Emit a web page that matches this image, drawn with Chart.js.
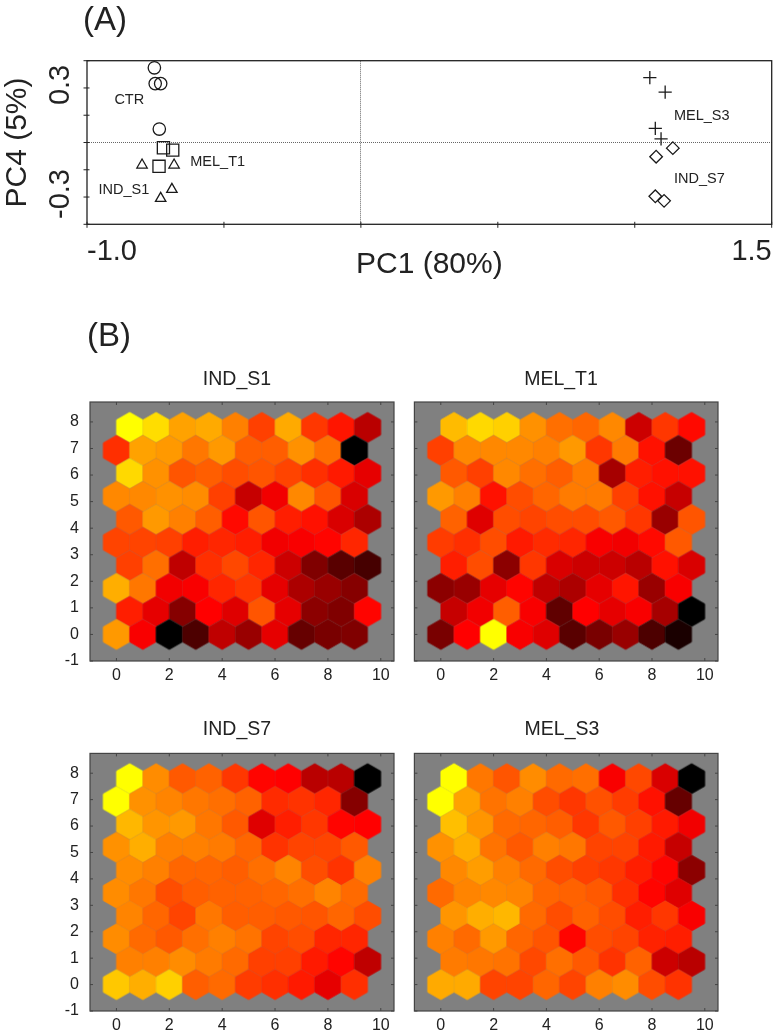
<!DOCTYPE html>
<html><head><meta charset="utf-8">
<script src="https://cdn.jsdelivr.net/npm/chart.js@4"></script>
<style>
html,body{margin:0;padding:0;background:#fff;width:777px;height:1033px;overflow:hidden}
canvas{position:absolute;filter:blur(0.4px)}
.tag{position:absolute;font:33px "Liberation Sans",Arial,sans-serif;color:#222;line-height:38px;filter:blur(0.4px)}
</style></head><body>
<div class="tag" style="left:83px;top:0px">(A)</div>
<div class="tag" style="left:87px;top:316px">(B)</div>
<canvas id="pca" width="800" height="270" style="left:0;top:30px"></canvas>
<canvas id="p1" width="374" height="335" style="left:50px;top:360px"></canvas>
<canvas id="p2" width="362" height="335" style="left:380px;top:360px"></canvas>
<canvas id="p3" width="374" height="323" style="left:50px;top:710px"></canvas>
<canvas id="p4" width="362" height="323" style="left:380px;top:710px"></canvas>
<script>
const FONT='"Liberation Sans",Arial,sans-serif';
// PCA scores
const ctrX=[-0.754,-0.751,-0.731,-0.736], ctrY=[0.411,0.324,0.324,0.074];
const melT1X=[-0.721,-0.687,-0.737], melT1Y=[-0.029,-0.042,-0.131];
const indS1X=[-0.799,-0.682,-0.690,-0.731], indS1Y=[-0.124,-0.124,-0.258,-0.307];
const melS3X=[1.055,1.111,1.075,1.096], melS3Y=[0.357,0.277,0.078,0.020];
const indS7X=[1.139,1.078,1.075,1.107], indS7Y=[-0.031,-0.078,-0.296,-0.321];
const pcaLabels=[['CTR',-0.9,0.235],['MEL_T1',-0.623,-0.108],['IND_S1',-0.958,-0.26],['MEL_S3',1.143,0.145],['IND_S7',1.143,-0.202]];
// SOM levels, rows from top (row 9) to bottom (row 0); 0 = black, 40 = red, 100 = yellow
const indS1=[
[100,92,78,80,70,55,80,53,45,29],
[51,78,76,68,76,62,62,74,66,0],
[91,74,60,62,58,60,56,51,46,36],
[72,72,74,73,55,31,38,72,60,34],
[61,76,70,62,42,60,47,44,34,27],
[56,56,55,47,49,47,38,39,41,49],
[55,66,30,51,57,49,32,20,14,11],
[81,68,38,39,49,53,36,27,24,21],
[47,36,21,40,35,60,36,22,20,41],
[76,39,0,12,30,24,36,16,19,20]];
const melT1=[
[84,91,89,74,66,64,72,32,53,42],
[55,72,72,72,70,76,53,69,44,17],
[61,55,72,66,62,69,26,47,44,44],
[76,70,44,58,64,69,69,55,44,31],
[63,35,58,56,58,58,61,53,24,60],
[54,51,58,46,50,49,39,38,42,61],
[47,58,22,53,34,32,32,29,44,34],
[22,24,36,41,30,27,36,45,24,39],
[31,38,62,39,15,40,36,39,26,0],
[19,40,100,39,35,14,19,24,12,4]];
const indS7=[
[100,73,61,63,53,41,40,29,29,0],
[100,74,71,68,66,63,50,52,49,21],
[83,75,76,68,61,35,47,53,41,40],
[74,81,70,70,69,64,52,56,56,61],
[73,70,64,64,62,66,71,58,52,70],
[73,68,58,62,63,63,64,66,71,65],
[71,64,56,68,62,62,61,60,64,58],
[73,65,61,66,70,67,56,58,49,49],
[70,70,73,69,65,55,55,46,41,30],
[87,81,89,62,65,54,51,46,36,51]];
const melS3=[
[100,68,60,73,65,66,39,57,34,0],
[100,78,67,70,58,53,59,54,44,16],
[85,75,65,64,62,53,61,55,46,38],
[74,81,67,61,70,68,56,56,46,31],
[72,77,70,65,58,55,53,47,41,22],
[65,71,72,71,64,63,61,51,41,35],
[75,81,83,65,58,63,58,47,53,39],
[70,65,76,64,60,41,58,56,48,47],
[69,68,67,57,66,61,52,63,32,29],
[80,80,56,56,64,56,70,73,58,52]];
const panelTitles=['IND_S1','MEL_T1','IND_S7','MEL_S3'];

function levelColor(v){
  const r=Math.min(1,v/40), g=Math.max(0,(v-40)/60);
  return `rgb(${Math.round(r*255)},${Math.round(g*255)},0)`;
}
const cache={};
function hexSprite(color){
  if(cache[color])return cache[color];
  const W=26.1,H=30,c=document.createElement('canvas');
  c.width=30;c.height=34;
  const g=c.getContext('2d'),cx=15,cy=17;
  g.fillStyle=color;g.strokeStyle=color;g.lineWidth=0.9;g.lineJoin='miter';
  g.beginPath();
  g.moveTo(cx,cy-H/2);g.lineTo(cx+W/2,cy-H/4);g.lineTo(cx+W/2,cy+H/4);
  g.lineTo(cx,cy+H/2);g.lineTo(cx-W/2,cy+H/4);g.lineTo(cx-W/2,cy-H/4);g.closePath();
  g.fill();g.stroke();
  return cache[color]=c;
}
function hexPoints(grid){
  const pts=[];
  grid.forEach((row,i)=>{
    const rowIndex=grid.length-1-i;
    row.forEach((v,j)=>pts.push({x:j+(rowIndex%2?0.5:0),y:rowIndex*Math.sqrt(3)/2,v}));
  });
  return pts;
}
const framePlugin={
  id:'frame',
  afterLayout(ch,a,o){
    if(o.titleCenter!==undefined&&ch.titleBlock){
      const t=ch.titleBlock,d=o.titleCenter-(t.left+t.right)/2;
      t.left+=d;t.right+=d;
    }
  },
  beforeDatasetsDraw(ch,a,o){
    if(o.fill){const k=ch.chartArea;ch.ctx.fillStyle=o.fill;ch.ctx.fillRect(k.left,k.top,k.right-k.left,k.bottom-k.top);}
  },
  afterDraw(ch,a,o){
    const g=ch.ctx,k=ch.chartArea;
    g.save();
    g.strokeStyle=o.color;g.lineWidth=o.width;
    g.strokeRect(k.left,k.top,k.right-k.left,k.bottom-k.top);
    g.lineWidth=1;
    g.beginPath();
    ch.scales.x.ticks.forEach(t=>{
      const p=ch.scales.x.getPixelForValue(t.value);
      g.moveTo(p,k.bottom-o.inner);g.lineTo(p,k.bottom+o.outer);
      if(o.mirror){g.moveTo(p,k.top);g.lineTo(p,k.top+o.inner);}
    });
    ch.scales.y.ticks.forEach(t=>{
      const p=ch.scales.y.getPixelForValue(t.value);
      g.moveTo(k.left-o.outer,p);g.lineTo(k.left+o.inner,p);
      if(o.mirror){g.moveTo(k.right,p);g.lineTo(k.right-o.inner,p);}
    });
    g.stroke();
    (o.labels||[]).forEach(l=>{
      g.font='14.5px '+FONT;g.fillStyle='#222';g.textBaseline='middle';g.textAlign='left';
      g.fillText(l[0],ch.scales.x.getPixelForValue(l[1]),ch.scales.y.getPixelForValue(l[2]));
    });
    g.restore();
  }
};
Chart.register(framePlugin);
const zip=(xs,ys)=>xs.map((x,i)=>({x,y:ys[i]}));
function mark(name,xs,ys,style,r){
  return {label:name,data:zip(xs,ys),pointStyle:style,pointRadius:r,showLine:false,
    borderColor:'#1a1a1a',backgroundColor:'transparent',pointBorderWidth:1.3};
}
new Chart(document.getElementById('pca'),{
  type:'scatter',
  data:{datasets:[
    mark('CTR',ctrX,ctrY,'circle',6.2),
    mark('MEL_T1',melT1X,melT1Y,'rect',8.6),
    mark('IND_S1',indS1X,indS1Y,'triangle',6),
    mark('MEL_S3',melS3X,melS3Y,'cross',6.6),
    mark('IND_S7',indS7X,indS7Y,'rectRot',6.3)
  ]},
  options:{
    responsive:false,animation:false,events:[],
    layout:{padding:{top:30.7,right:28.3,left:0,bottom:0}},
    plugins:{legend:{display:false},tooltip:{enabled:false},title:{display:false},
      frame:{color:'#222',width:1.3,inner:2.5,outer:3.5,mirror:false,labels:pcaLabels}},
    scales:{
      x:{type:'linear',min:-1,max:1.5,
        afterFit(s){s.height=75.7;},
        border:{display:false,dash:[1,1]},
        grid:{drawTicks:false,color:c=>c.tick&&Math.abs(c.tick.value)<1e-6?'#666':'transparent',lineWidth:1},
        ticks:{stepSize:0.5,align:'inner',maxRotation:0,padding:10,color:'#222',font:{family:FONT,size:29},autoSkip:false,
          callback:v=>Math.abs(v+1)<1e-6?'-1.0':Math.abs(v-1.5)<1e-6?'1.5':''},
        title:{display:true,text:'PC1 (80%)',color:'#222',font:{family:FONT,size:30},padding:{top:0,bottom:17}}
      },
      y:{type:'linear',min:-0.45,max:0.45,
        afterFit(s){s.width=87;},
        border:{display:false,dash:[1,1]},
        grid:{drawTicks:false,color:c=>c.tick&&Math.abs(c.tick.value)<1e-6?'#666':'transparent',lineWidth:1},
        ticks:{stepSize:0.15,minRotation:90,maxRotation:90,crossAlign:'center',padding:1,labelOffset:-3,color:'#222',autoSkip:false,font:{family:FONT,size:29},
          callback:v=>Math.abs(v-0.3)<1e-6?'0.3':Math.abs(v+0.3)<1e-6?'-0.3':''},
        title:{display:true,text:'PC4 (5%)',color:'#222',font:{family:FONT,size:30},padding:{top:0,bottom:0}}
      }
    }
  }
});
function panel(id,title,grid,showY,left,right,bottomH,topPad,titleCenter){
  new Chart(document.getElementById(id),{
    type:'scatter',
    data:{datasets:[{label:title,data:hexPoints(grid),showLine:false,pointRadius:14,pointBorderWidth:0,
      pointStyle:c=>hexSprite(levelColor(c.raw?c.raw.v:0))}]},
    options:{
      responsive:false,animation:false,events:[],
      layout:{padding:{left:showY?0:left,right,top:0,bottom:0}},
      plugins:{legend:{display:false},tooltip:{enabled:false},
        title:{display:true,text:title,color:'#222',font:{family:FONT,size:19.5,weight:'normal'},padding:{top:8.3,bottom:topPad}},
        frame:{fill:'#808080',color:'#444',width:1.2,inner:3,outer:0,mirror:true,titleCenter}},
      scales:{
        x:{type:'linear',min:-1,max:10.5,
          afterFit(s){s.height=bottomH;},
          border:{display:false},grid:{display:false,drawTicks:false},
          ticks:{stepSize:2,includeBounds:false,maxRotation:0,padding:5,color:'#222',font:{family:FONT,size:16},autoSkip:false}},
        y:{type:'linear',min:-1,max:8.75,
          afterFit(s){s.width=showY?left:0;},
          border:{display:false},grid:{display:false,drawTicks:false},
          ticks:{stepSize:1,includeBounds:false,padding:11,color:'#222',font:{family:FONT,size:16},autoSkip:false,display:showY}}
      }
    }
  });
}
panel('p1',panelTitles[0],indS1,true,40,30,34,10.3,187);
panel('p2',panelTitles[1],melT1,false,34.4,24,34,10.3,181);
panel('p3',panelTitles[2],indS7,true,40,30,22,11.7,187);
panel('p4',panelTitles[3],melS3,false,34.4,24,22,11.7,182);
</script>
</body></html>
